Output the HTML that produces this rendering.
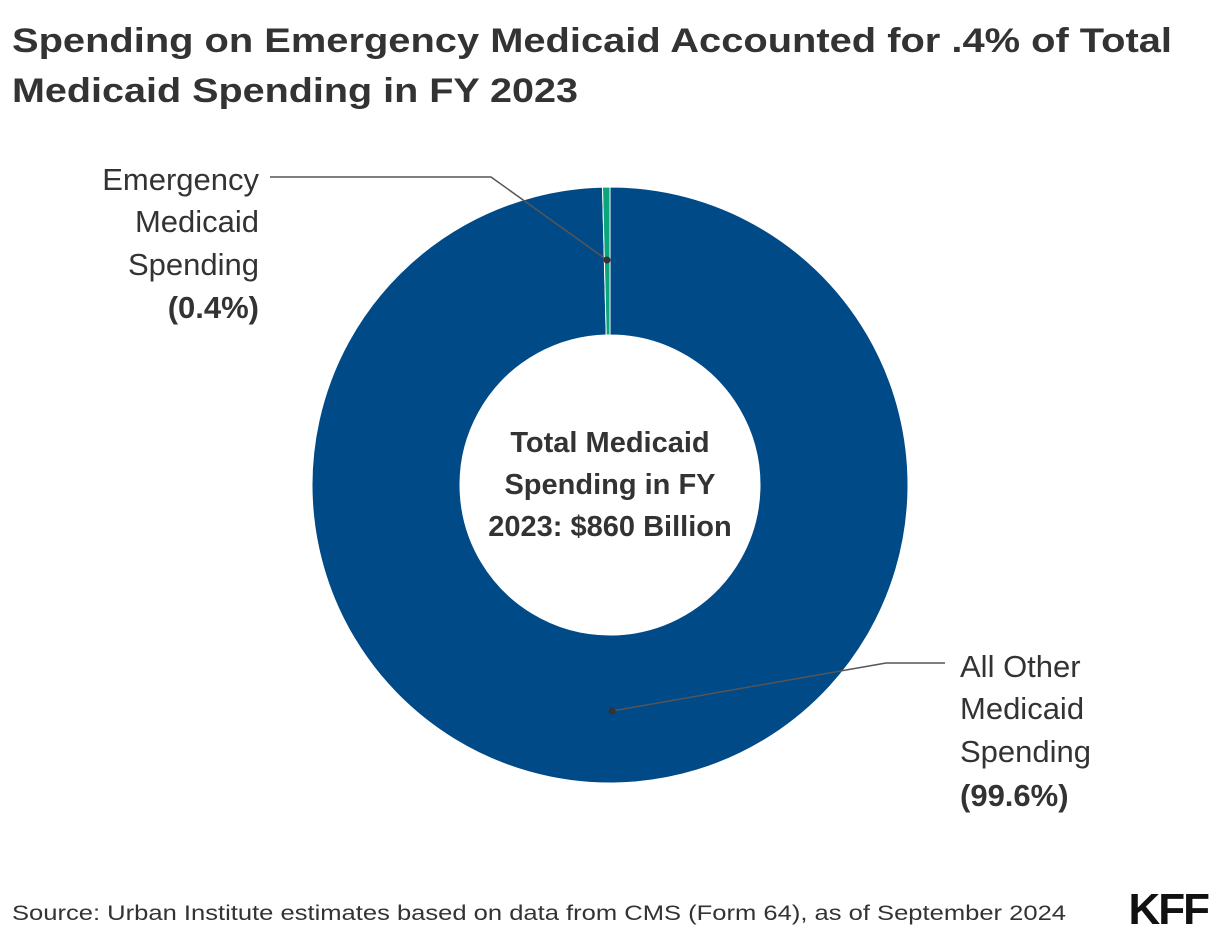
<!DOCTYPE html>
<html><head><meta charset="utf-8"><style>
body{margin:0;background:#fff;width:1220px;height:940px;overflow:hidden;font-family:"Liberation Sans",sans-serif;}
</style></head><body>
<svg width="1220" height="940">
<text x="12" y="52" font-size="34" font-weight="bold" fill="#333" textLength="1160" lengthAdjust="spacingAndGlyphs">Spending on Emergency Medicaid Accounted for .4% of Total</text>
<text x="12" y="102" font-size="34" font-weight="bold" fill="#333" textLength="566" lengthAdjust="spacingAndGlyphs">Medicaid Spending in FY 2023</text>
<g id="donut"></g>
<g font-size="29" fill="#333" text-anchor="middle" font-weight="bold">
<text x="610" y="452">Total Medicaid</text>
<text x="610" y="494">Spending in FY</text>
<text x="610" y="536">2023: $860 Billion</text>
</g>
<polyline points="607,260 491,177 270,177" fill="none" stroke="#555" stroke-width="1.5"/>
<circle cx="607" cy="260" r="3.5" fill="#333"/>
<g font-size="31" fill="#333" text-anchor="end">
<text x="259" y="190">Emergency</text><text x="259" y="232">Medicaid</text><text x="259" y="275">Spending</text>
<text x="259" y="318" font-weight="bold">(0.4%)</text></g>
<polyline points="612,711 886,663 945,663" fill="none" stroke="#555" stroke-width="1.5"/>
<circle cx="612" cy="711" r="3.5" fill="#333"/>
<g font-size="31" fill="#333">
<text x="960" y="677">All Other</text><text x="960" y="719">Medicaid</text><text x="960" y="762">Spending</text>
<text x="960" y="806" font-weight="bold">(99.6%)</text></g>
<text x="12" y="920" font-size="21" fill="#333" textLength="1054" lengthAdjust="spacingAndGlyphs">Source: Urban Institute estimates based on data from CMS (Form 64), as of September 2024</text>
<text x="1208" y="924" font-size="44" font-weight="bold" fill="#111" text-anchor="end" letter-spacing="-2">KFF</text>
</svg>
<script>
const categories=["All Other Medicaid Spending","Emergency Medicaid Spending"];
const values=[99.6,0.4];
const colors=["#004a87","#0aa57a"];
const cx=610,cy=485,R=298,r=150;
const g=document.getElementById('donut');
const total=values.reduce((a,b)=>a+b,0);
let a0=0;
function pt(rad,a){return [cx+rad*Math.sin(a),cy-rad*Math.cos(a)];}
values.forEach((v,i)=>{
 const a1=a0+v/total*2*Math.PI;
 const large=(a1-a0)>Math.PI?1:0;
 const [x1,y1]=pt(R,a0),[x2,y2]=pt(R,a1),[x3,y3]=pt(r,a1),[x4,y4]=pt(r,a0);
 const p=document.createElementNS('http://www.w3.org/2000/svg','path');
 p.setAttribute('d',`M${x1},${y1}A${R},${R} 0 ${large} 1 ${x2},${y2}L${x3},${y3}A${r},${r} 0 ${large} 0 ${x4},${y4}Z`);
 p.setAttribute('fill',colors[i]);
 p.setAttribute('stroke','#fff');
 p.setAttribute('stroke-width','1');
 
 
 g.appendChild(p);
 a0=a1;
});
</script>
</body></html>
